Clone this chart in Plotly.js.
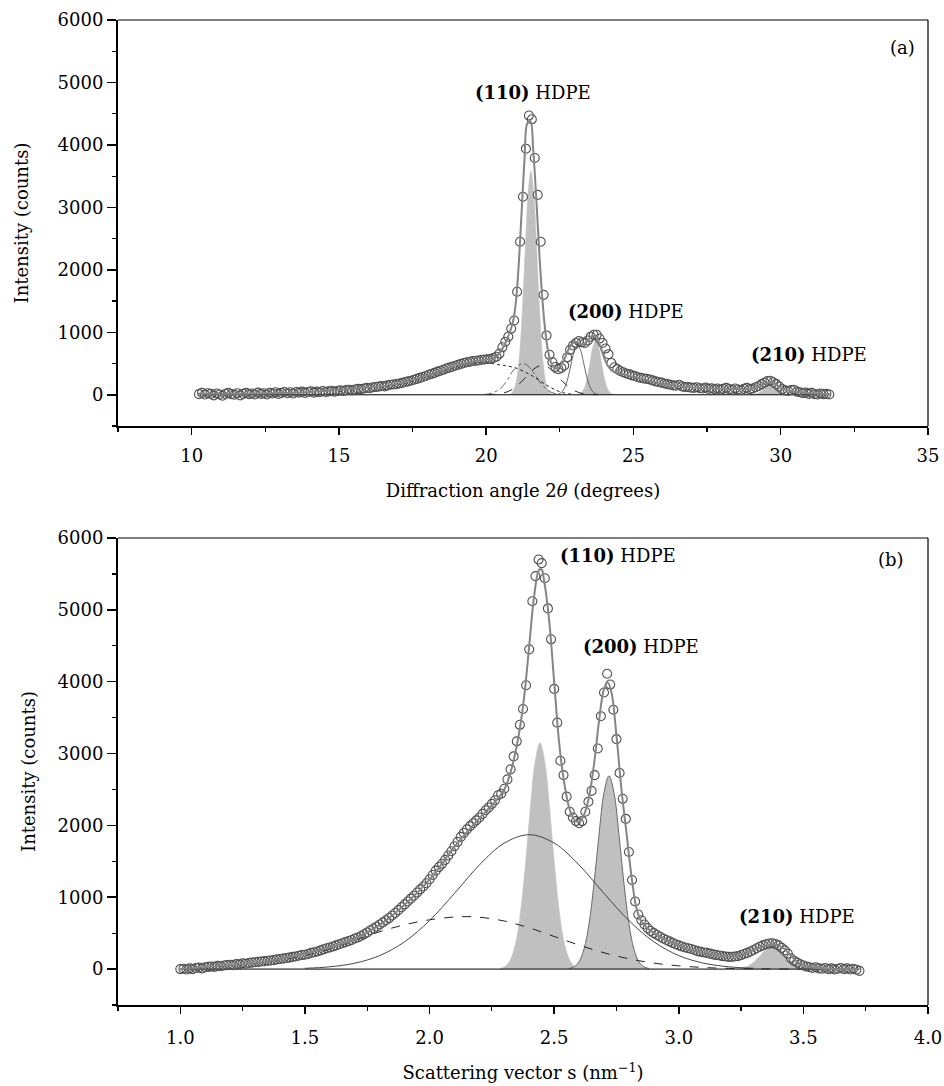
<!DOCTYPE html>
<html>
<head>
<meta charset="utf-8">
<script src="https://cdn.plot.ly/plotly-3.0.1.min.js"></script>
<style>html,body{margin:0;padding:0;background:#fff;}#chart{width:944px;height:1086px;}</style>
</head>
<body>
<div id="chart"></div>
<script>
// ---------- Panel (a): diffraction angle 2θ ----------
const aDataX = [10.25,10.35,10.45,10.55,10.65,10.75,10.85,10.95,11.05,11.15,
11.25,11.35,11.45,11.55,11.65,11.75,11.85,11.95,12.05,12.15,
12.25,12.35,12.45,12.55,12.65,12.75,12.85,12.95,13.05,13.15,
13.25,13.35,13.45,13.55,13.65,13.75,13.85,13.95,14.05,14.15,
14.25,14.35,14.45,14.55,14.65,14.75,14.85,14.95,15.05,15.15,
15.25,15.35,15.45,15.55,15.65,15.75,15.85,15.95,16.05,16.15,
16.25,16.35,16.45,16.55,16.65,16.75,16.85,16.95,17.05,17.15,
17.25,17.35,17.45,17.55,17.65,17.75,17.85,17.95,18.05,18.15,
18.25,18.35,18.45,18.55,18.65,18.75,18.85,18.95,19.05,19.15,
19.25,19.35,19.45,19.55,19.65,19.75,19.85,19.95,20.05,20.15,
20.25,20.35,20.45,20.55,20.65,20.75,20.85,20.95,21.05,21.15,
21.25,21.35,21.45,21.55,21.65,21.75,21.85,21.95,22.05,22.15,
22.25,22.35,22.45,22.55,22.65,22.75,22.85,22.95,23.05,23.15,
23.25,23.35,23.45,23.55,23.65,23.75,23.85,23.95,24.05,24.15,
24.25,24.35,24.45,24.55,24.65,24.75,24.85,24.95,25.05,25.15,
25.25,25.35,25.45,25.55,25.65,25.75,25.85,25.95,26.05,26.15,
26.25,26.35,26.45,26.55,26.65,26.75,26.85,26.95,27.05,27.15,
27.25,27.35,27.45,27.55,27.65,27.75,27.85,27.95,28.05,28.15,
28.25,28.35,28.45,28.55,28.65,28.75,28.85,28.95,29.05,29.15,
29.25,29.35,29.45,29.55,29.65,29.75,29.85,29.95,30.05,30.15,
30.25,30.35,30.45,30.55,30.65,30.75,30.85,30.95,31.05,31.15,
31.25,31.35,31.45,31.55,31.65];
const aDataY = [10,30,5,25,15,-10,20,5,-15,15,
30,10,0,25,-10,15,30,10,20,5,
35,15,25,5,30,20,40,15,30,45,
25,40,20,45,35,50,30,45,55,35,
50,40,60,45,55,65,50,60,70,60,
75,80,70,85,95,90,100,110,105,120,
125,130,140,135,150,160,165,170,180,190,
205,215,225,240,255,270,285,300,320,335,
350,370,385,400,420,435,450,465,480,495,
510,520,530,540,545,550,560,565,570,575,
590,610,660,760,850,930,1060,1190,1650,2450,
3170,3940,4470,4410,3790,3200,2450,1600,950,640,
520,445,410,430,470,600,720,790,830,860,
840,830,870,930,960,960,900,830,740,650,
510,440,410,380,360,340,330,310,300,280,
270,260,255,245,230,215,205,195,180,170,
160,150,145,160,135,120,125,115,110,120,
105,100,115,95,105,90,100,85,95,110,
90,80,100,85,75,95,110,90,100,120,
140,170,195,220,225,200,170,130,90,70,
60,75,80,50,40,25,35,15,30,10,
5,20,10,15,5];

const aFitX = [10.2,12,14,16,17,18,19,19.5,20,20.3,20.5,20.7,20.9,21.0,21.1,21.2,21.3,21.4,21.5,21.6,21.7,21.8,21.9,22.0,22.1,22.2,22.3,22.4,22.5,22.6,22.7,22.8,22.9,23.0,23.1,23.2,23.3,23.4,23.5,23.6,23.7,23.8,23.9,24.0,24.1,24.2,24.3,24.5,25,26,27,28,29,29.3,29.5,29.65,29.8,30,30.3,31,31.7];
const aFitY = [15,20,45,115,175,310,475,530,565,600,700,880,1150,1450,2050,2900,3750,4350,4380,3900,3150,2300,1580,1050,700,520,440,420,450,520,620,730,810,840,840,810,800,840,900,940,930,860,740,600,490,420,380,345,290,180,115,95,100,140,190,205,175,110,65,25,10];

const a110X = [20.72,20.82,20.92,21.02,21.12,21.22,21.32,21.42,21.52,21.62,21.72,21.82,21.92,22.02,22.12,22.22,22.32];
const a110Y = [0,10,60,210,580,1290,2270,3200,3580,3200,2270,1290,580,210,60,10,0];
const a200X = [23.02,23.12,23.22,23.32,23.42,23.52,23.62,23.72,23.82,23.92,24.02,24.12,24.22,24.32,24.42];
const a200Y = [0,5,27,95,250,500,757,870,757,500,250,95,27,5,0];
const a210X = [29.0,29.15,29.25,29.35,29.45,29.55,29.65,29.75,29.85,29.95,30.05,30.15,30.3];
const a210Y = [2,11,29,59,100,136,150,136,100,59,29,11,2];

const aAmorphX = [15,16,17,18,19,19.5,20,20.3,20.6,21,21.5,22,22.3,22.6,23];
const aAmorphY = [50,100,160,290,450,510,520,490,470,430,320,170,90,35,5];
const aDashX = [20.0,20.3,20.6,20.9,21.2,21.5,21.7,21.9,22.1,22.3,22.6,22.9,23.2,23.5,23.8];
const aDashY = [2,7,29,90,210,360,440,470,440,360,210,90,29,7,2];
const aThinX = [22.3,22.5,22.6,22.7,22.8,22.9,23.0,23.1,23.2,23.3,23.4,23.5,23.6,23.7,23.9];
const aThinY = [1,19,60,153,315,530,720,800,720,530,315,153,60,19,1];
const aDashDotX = [19.9,20.2,20.5,20.7,20.9,21.1,21.25,21.4,21.6,21.8,22.0,22.2,22.5];
const aDashDotY = [5,25,110,220,380,470,500,470,360,220,110,42,5];

// ---------- Panel (b): scattering vector s ----------
const bDataX = [1,1.0125,1.025,1.0375,1.05,1.0625,1.075,1.0875,1.1,1.1125,1.125,1.1375,1.15,1.1625,1.175,1.1875,1.2,1.2125,1.225,1.2375,1.25,1.2625,1.275,1.2875,1.3,1.3125,1.325,1.3375,1.35,1.3625,1.375,1.3875,1.4,1.4125,1.425,1.4375,1.45,1.4625,1.475,1.4875,1.5,1.5125,1.525,1.5375,1.55,1.5625,1.575,1.5875,1.6,1.6125,1.625,1.6375,1.65,1.6625,1.675,1.6875,1.7,1.7125,1.725,1.7375,1.75,1.7625,1.775,1.7875,1.8,1.8125,1.825,1.8375,1.85,1.8625,1.875,1.8875,1.9,1.9125,1.925,1.9375,1.95,1.9625,1.975,1.9875,2,2.0125,2.025,2.0375,2.05,2.0625,2.075,2.0875,2.1,2.1125,2.125,2.1375,2.15,2.1625,2.175,2.1875,2.2,2.2125,2.225,2.2375,2.25,2.2625,2.275,2.2875,2.3,2.3125,2.325,2.3375,2.35,2.3625,2.375,2.3875,2.4,2.4125,2.425,2.4375,2.45,2.4625,2.475,2.4875,2.5,2.5125,2.525,2.5375,2.55,2.5625,2.575,2.5875,2.6,2.6125,2.625,2.6375,2.65,2.6625,2.675,2.6875,2.7,2.7125,2.725,2.7375,2.75,2.7625,2.775,2.7875,2.8,2.8125,2.825,2.8375,2.85,2.8625,2.875,2.8875,2.9,2.9125,2.925,2.9375,2.95,2.9625,2.975,2.9875,3,3.0125,3.025,3.0375,3.05,3.0625,3.075,3.0875,3.1,3.1125,3.125,3.1375,3.15,3.1625,3.175,3.1875,3.2,3.2125,3.225,3.2375,3.25,3.2625,3.275,3.2875,3.3,3.3125,3.325,3.3375,3.35,3.3625,3.375,3.3875,3.4,3.4125,3.425,3.4375,3.45,3.4625,3.475,3.4875,3.5,3.5125,3.525,3.5375,3.55,3.5625,3.575,3.5875,3.6,3.6125,3.625,3.6375,3.65,3.6625,3.675,3.6875,3.7,3.7125,3.725];
const bDataY = [0,5,-5,10,0,15,20,10,25,30,
35,30,45,40,50,55,60,55,70,65,
80,75,85,90,95,100,105,110,115,120,
125,135,140,145,155,160,170,175,185,195,
200,210,225,235,245,260,275,290,300,315,
330,345,360,375,390,405,425,440,460,485,
510,540,565,590,620,650,680,710,745,780,
820,860,900,940,980,1020,1065,1110,1150,1195,
1250,1310,1370,1420,1465,1520,1580,1640,1710,1770,
1840,1895,1945,1990,2030,2070,2110,2160,2210,2250,
2300,2350,2420,2440,2510,2640,2780,2960,3170,3400,
3620,3950,4450,5120,5470,5700,5650,5440,5020,4590,
3900,3430,2900,2700,2400,2190,2110,2060,2030,2060,
2190,2330,2480,2700,3070,3520,3850,4110,3960,3610,
3200,2730,2370,2090,1630,1240,940,760,680,620,
570,530,500,475,450,425,405,385,365,345,
330,315,300,290,280,265,250,240,230,225,
215,205,195,190,180,175,170,170,175,180,
195,210,225,245,265,290,310,330,345,355,
360,350,330,295,260,215,150,115,90,65,
50,35,25,15,25,10,5,15,0,10,
-5,5,15,0,10,-5,5,-10,-25];

const bFitX = [1.0,1.2,1.4,1.6,1.7,1.8,1.9,2.0,2.1,2.2,2.25,2.3,2.33,2.36,2.38,2.40,2.42,2.44,2.45,2.46,2.48,2.50,2.52,2.54,2.56,2.58,2.60,2.62,2.64,2.66,2.68,2.70,2.715,2.73,2.75,2.77,2.79,2.81,2.83,2.85,2.9,3.0,3.1,3.2,3.25,3.3,3.35,3.38,3.42,3.46,3.5,3.6,3.72];
const bFitY = [0,55,140,300,420,615,895,1245,1700,2100,2280,2500,2800,3300,3800,4500,5200,5560,5560,5400,4850,4000,3150,2600,2250,2080,2050,2150,2400,2850,3450,3900,3990,3850,3250,2500,1900,1300,850,660,500,330,230,175,195,265,330,350,290,150,50,5,0];

const b110X = [2.283,2.303,2.323,2.343,2.363,2.383,2.403,2.423,2.443,2.463,2.483,2.503,2.523,2.543,2.563,2.583,2.603];
const b110Y = [9,37,121,327,741,1395,2192,2877,3150,2877,2192,1395,741,327,121,37,9];
const b200X = [2.56,2.58,2.60,2.62,2.64,2.66,2.68,2.70,2.72,2.74,2.76,2.78,2.80,2.82,2.84,2.86,2.88];
const b200Y = [8,32,103,279,632,1192,1872,2456,2690,2456,1872,1192,632,279,103,32,8];
const b210X = [3.228,3.253,3.278,3.303,3.328,3.353,3.378,3.403,3.428,3.453,3.478,3.503,3.528];
const b210Y = [4,14,43,104,194,282,320,282,194,104,43,14,4];

const bDashX = [1.0,1.2,1.4,1.5,1.6,1.7,1.8,1.9,2.0,2.1,2.15,2.2,2.3,2.4,2.5,2.6,2.7,2.8,2.9,3.0,3.1,3.2,3.3,3.4,3.5];
const bDashY = [0,50,130,190,280,400,520,617,686,725,730,722,669,574,454,334,227,143,83,45,22,10,4,1,0];
const bBroadX = [1.5,1.6,1.7,1.8,1.9,2.0,2.1,2.2,2.3,2.4,2.5,2.6,2.7,2.8,2.9,3.0,3.1,3.2,3.3];
const bBroadY = [11,32,82,188,380,675,1053,1449,1754,1870,1754,1449,1053,675,380,188,82,32,11];

// ---------- labels ----------
const aLabels = ['<b>(110)</b> HDPE','<b>(200)</b> HDPE','<b>(210)</b> HDPE','(a)'];
const aLabelX = [21.6,24.75,30.95,34.15];
const aLabelY = [4835,1339,651,5563];
const bLabels = ['<b>(110)</b> HDPE','<b>(200)</b> HDPE','<b>(210)</b> HDPE','(b)'];
const bLabelX = [2.755,2.85,3.475,3.85];
const bLabelY = [5753,4490,738,5697];

const GREYFILL = '#c0c0c0';
function fillTrace(x, y, xa, ya, outline){
  return {x:x, y:y, xaxis:xa, yaxis:ya, type:'scatter', mode:'lines', fill:'tozeroy',
    fillcolor:GREYFILL, line:{color: outline || GREYFILL, width: outline ? 1 : 0.5, shape:'spline'}, hoverinfo:'skip'};
}
function lineTrace(x, y, xa, ya, dash, color, width){
  return {x:x, y:y, xaxis:xa, yaxis:ya, type:'scatter', mode:'lines',
    line:{color:color, width:width, dash:dash, shape:'spline'}, hoverinfo:'skip'};
}
function dataTrace(x, y, xa, ya){
  return {x:x, y:y, xaxis:xa, yaxis:ya, type:'scatter', mode:'markers',
    marker:{symbol:'circle-open', size:9, color:'#505050', line:{width:1.1, color:'#505050'}}};
}

const traces = [
  fillTrace(a110X, a110Y, 'x', 'y'),
  fillTrace(a200X, a200Y, 'x', 'y'),
  fillTrace(a210X, a210Y, 'x', 'y'),
  lineTrace([aDataX[0], aDataX[aDataX.length-1]], [0,0], 'x', 'y', 'solid', '#000', 1),
  lineTrace(aAmorphX, aAmorphY, 'x', 'y', 'dot', '#222', 1),
  lineTrace(aDashX, aDashY, 'x', 'y', 'dash', '#222', 1),
  lineTrace(aDashDotX, aDashDotY, 'x', 'y', 'dashdot', '#444', 0.8),
  lineTrace(aThinX, aThinY, 'x', 'y', 'solid', '#444', 0.8),
  dataTrace(aDataX, aDataY, 'x', 'y'),
  lineTrace(aFitX, aFitY, 'x', 'y', 'solid', '#858585', 2),

  fillTrace(b110X, b110Y, 'x2', 'y2'),
  fillTrace(b200X, b200Y, 'x2', 'y2', '#6a6a6a'),
  fillTrace(b210X, b210Y, 'x2', 'y2'),
  lineTrace([bDataX[0], bDataX[bDataX.length-1]], [0,0], 'x2', 'y2', 'solid', '#000', 1),
  lineTrace(bDashX, bDashY, 'x2', 'y2', 'dash', '#222', 1),
  lineTrace(bBroadX, bBroadY, 'x2', 'y2', 'solid', '#333', 0.9),
  dataTrace(bDataX, bDataY, 'x2', 'y2'),
  lineTrace(bFitX, bFitY, 'x2', 'y2', 'solid', '#858585', 2)
];

const annotations = [];
aLabels.forEach((t,i)=>annotations.push({x:aLabelX[i], y:aLabelY[i], xref:'x', yref:'y', text:t, showarrow:false, font:{size:18, color:'#000'}}));
bLabels.forEach((t,i)=>annotations.push({x:bLabelX[i], y:bLabelY[i], xref:'x2', yref:'y2', text:t, showarrow:false, font:{size:18, color:'#000'}}));

const common = {showgrid:false, zeroline:false, showline:true, linecolor:'#000', linewidth:2,
  ticks:'outside', tickcolor:'#000', tickwidth:1.5, tickfont:{size:18, color:'#000'}};

const frame = (xa, ya) => [
  {type:'line', xref:xa+' domain', yref:ya+' domain', x0:0, x1:1, y0:1, y1:1, line:{color:'#000', width:1.2}},
  {type:'line', xref:xa+' domain', yref:ya+' domain', x0:1, x1:1, y0:0, y1:1, line:{color:'#000', width:1.2}}
];

const layout = {
  width:944, height:1086,
  margin:{l:118, r:16, t:20, b:81},
  paper_bgcolor:'#fff', plot_bgcolor:'#fff',
  showlegend:false,
  font:{family:'DejaVu Serif, serif', size:18, color:'#000'},
  xaxis: Object.assign({}, common, {domain:[0,1], anchor:'y', range:[7.5,35], tick0:0, dtick:5, ticklen:7,
    ticklabelstandoff:5,
    minor:{dtick:2.5, tick0:0, ticks:'outside', ticklen:4, tickwidth:1.2, tickcolor:'#000', showgrid:false},
    title:{text:'Diffraction angle 2<i>θ</i> (degrees)', standoff:20, font:{size:18}}}),
  yaxis: Object.assign({}, common, {domain:[0.5878,1], anchor:'x', range:[-500,6000], tick0:0, dtick:1000, ticklen:9,
    minor:{dtick:500, tick0:0, ticks:'outside', ticklen:4, tickwidth:1.2, tickcolor:'#000', showgrid:false},
    title:{text:'Intensity (counts)', standoff:24, font:{size:18}}}),
  xaxis2: Object.assign({}, common, {domain:[0,1], anchor:'y2', range:[0.75,4.0], tick0:0, dtick:0.5, tickformat:'.1f', ticklen:7,
    ticklabelstandoff:8,
    minor:{dtick:0.25, tick0:0, ticks:'outside', ticklen:4, tickwidth:1.2, tickcolor:'#000', showgrid:false},
    title:{text:'Scattering vector s (nm<sup>−1</sup>)', standoff:20, font:{size:18}}}),
  yaxis2: Object.assign({}, common, {domain:[0,0.4741], anchor:'x2', range:[-500,6000], tick0:0, dtick:1000, ticklen:9,
    minor:{dtick:500, tick0:0, ticks:'outside', ticklen:4, tickwidth:1.2, tickcolor:'#000', showgrid:false},
    title:{text:'Intensity (counts)', standoff:17, font:{size:18}}}),
  shapes: frame('x','y').concat(frame('x2','y2')),
  annotations: annotations
};

Plotly.newPlot('chart', traces, layout, {displayModeBar:false, staticPlot:true});
</script>
</body>
</html>
